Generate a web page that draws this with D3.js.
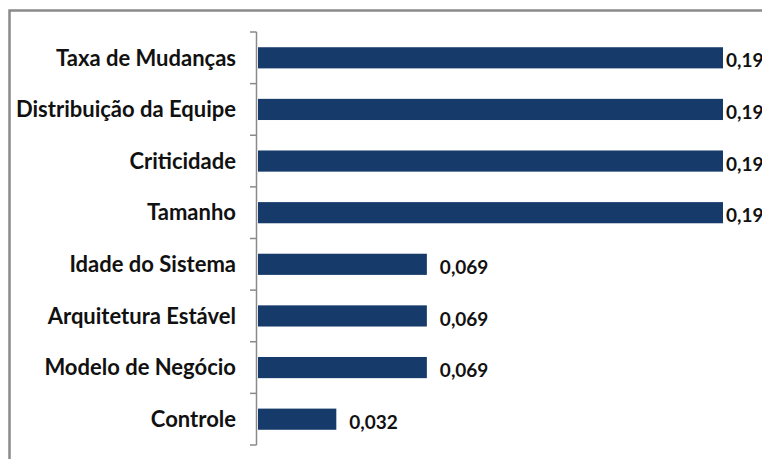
<!DOCTYPE html>
<html>
<head>
<meta charset="utf-8">
<script src="https://cdn.jsdelivr.net/npm/d3@7"></script>
<style>
  body { margin: 0; background: #fff; }
  svg { display: block; }
  .cat-label { font-family: Lato, "Open Sans", sans-serif; font-weight: 700; font-size: 22px; fill: #111; }
  .val-label { font-family: Lato, "Open Sans", sans-serif; font-weight: 700; font-size: 19px; fill: #111; }
</style>
</head>
<body>
<svg id="chart" width="762" height="459"></svg>
<script>
// Chart data
const categories = [
  'Taxa de Mudanças',
  'Distribuição da Equipe',
  'Criticidade',
  'Tamanho',
  'Idade do Sistema',
  'Arquitetura Estável',
  'Modelo de Negócio',
  'Controle',
];
const values = [0.19, 0.19, 0.19, 0.19, 0.069, 0.069, 0.069, 0.032];
const valueLabels = ['0,19', '0,19', '0,19', '0,19', '0,069', '0,069', '0,069', '0,032'];

const svg = d3.select('#chart');
const width = 762;
const height = 459;

// Plot area of the chart
const margin = { top: 32, right: 39, bottom: 14, left: 258 };

// Outer chart frame (runs past the right and bottom edge of the picture)
svg.append('rect')
  .attr('x', 9.5)
  .attr('y', 10.5)
  .attr('width', width + 20)
  .attr('height', height + 20)
  .attr('fill', 'none')
  .attr('stroke', '#8a8a8a')
  .attr('stroke-width', 2.5);

const x = d3.scaleLinear()
  .domain([0, 0.19])
  .range([margin.left, width - margin.right]);

const y = d3.scaleBand()
  .domain(categories)
  .range([margin.top, height - margin.bottom])
  .paddingInner(0.59)
  .paddingOuter(0.295);

// Category axis with ticks between categories
const bandStep = y.step();
const boundaries = d3.range(categories.length + 1).map((i) => margin.top + i * bandStep);

const axis = svg.append('g').attr('class', 'y-axis');
axis.append('line')
  .attr('x1', margin.left - 1.5)
  .attr('x2', margin.left - 1.5)
  .attr('y1', boundaries[0])
  .attr('y2', boundaries[boundaries.length - 1])
  .attr('stroke', '#8a8a8a')
  .attr('stroke-width', 1.5);

axis.selectAll('.tick')
  .data(boundaries)
  .enter()
  .append('line')
  .attr('class', 'tick')
  .attr('x1', margin.left - 8)
  .attr('x2', margin.left - 1.5)
  .attr('y1', (d) => d)
  .attr('y2', (d) => d)
  .attr('stroke', '#8a8a8a')
  .attr('stroke-width', 1.5);

axis.selectAll('.cat-label')
  .data(categories)
  .enter()
  .append('text')
  .attr('class', 'cat-label')
  .attr('x', margin.left - 22)
  .attr('y', (d) => y(d) + y.bandwidth() / 2)
  .attr('dy', '0.35em')
  .attr('text-anchor', 'end')
  .text((d) => d);

// Bars
const rows = categories.map((c, i) => ({ name: c, value: values[i], label: valueLabels[i] }));

svg.selectAll('.bar')
  .data(rows)
  .enter()
  .append('rect')
  .attr('class', 'bar')
  .attr('x', x(0))
  .attr('y', (d) => y(d.name))
  .attr('width', (d) => x(d.value) - x(0))
  .attr('height', y.bandwidth())
  .attr('fill', '#163b6b');

// Value labels; labels that would leave the plot are pulled in next to the bar
svg.selectAll('.val-label')
  .data(rows)
  .enter()
  .append('text')
  .attr('class', 'val-label')
  .attr('x', (d) => (x(d.value) + 13 > width - margin.right ? x(d.value) + 3 : x(d.value) + 13))
  .attr('y', (d) => y(d.name) + y.bandwidth() / 2 + 3)
  .attr('dy', '0.35em')
  .text((d) => d.label);
</script>
</body>
</html>
